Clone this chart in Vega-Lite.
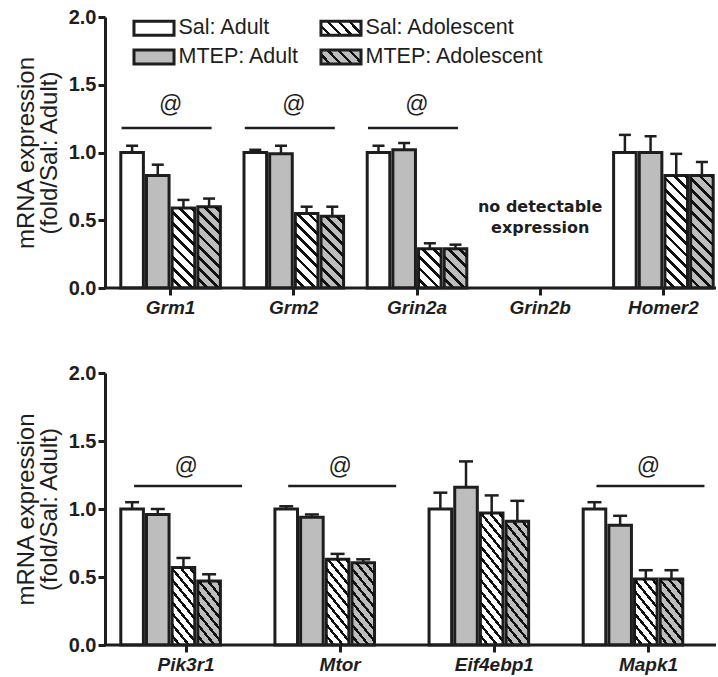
{
  "$schema": "https://vega.github.io/schema/vega-lite/v6.json",
  "background": "white",
  "padding": {"left": 14, "top": 7, "right": 0, "bottom": 2},
  "params": [
    {"name": "hatch", "value": [
      {"offset": 0, "color": "rgba(0,0,0,0)"}, {"offset": 0.037, "color": "rgba(0,0,0,0)"}, {"offset": 0.037, "color": "#111"}, {"offset": 0.056, "color": "#111"},
      {"offset": 0.056, "color": "rgba(0,0,0,0)"}, {"offset": 0.093, "color": "rgba(0,0,0,0)"}, {"offset": 0.093, "color": "#111"}, {"offset": 0.112, "color": "#111"},
      {"offset": 0.112, "color": "rgba(0,0,0,0)"}, {"offset": 0.149, "color": "rgba(0,0,0,0)"}, {"offset": 0.149, "color": "#111"}, {"offset": 0.168, "color": "#111"},
      {"offset": 0.168, "color": "rgba(0,0,0,0)"}, {"offset": 0.205, "color": "rgba(0,0,0,0)"}, {"offset": 0.205, "color": "#111"}, {"offset": 0.224, "color": "#111"},
      {"offset": 0.224, "color": "rgba(0,0,0,0)"}, {"offset": 0.261, "color": "rgba(0,0,0,0)"}, {"offset": 0.261, "color": "#111"}, {"offset": 0.28, "color": "#111"},
      {"offset": 0.28, "color": "rgba(0,0,0,0)"}, {"offset": 0.317, "color": "rgba(0,0,0,0)"}, {"offset": 0.317, "color": "#111"}, {"offset": 0.336, "color": "#111"},
      {"offset": 0.336, "color": "rgba(0,0,0,0)"}, {"offset": 0.373, "color": "rgba(0,0,0,0)"}, {"offset": 0.373, "color": "#111"}, {"offset": 0.392, "color": "#111"},
      {"offset": 0.392, "color": "rgba(0,0,0,0)"}, {"offset": 0.429, "color": "rgba(0,0,0,0)"}, {"offset": 0.429, "color": "#111"}, {"offset": 0.448, "color": "#111"},
      {"offset": 0.448, "color": "rgba(0,0,0,0)"}, {"offset": 0.485, "color": "rgba(0,0,0,0)"}, {"offset": 0.485, "color": "#111"}, {"offset": 0.504, "color": "#111"},
      {"offset": 0.504, "color": "rgba(0,0,0,0)"}, {"offset": 0.541, "color": "rgba(0,0,0,0)"}, {"offset": 0.541, "color": "#111"}, {"offset": 0.56, "color": "#111"},
      {"offset": 0.56, "color": "rgba(0,0,0,0)"}, {"offset": 0.597, "color": "rgba(0,0,0,0)"}, {"offset": 0.597, "color": "#111"}, {"offset": 0.616, "color": "#111"},
      {"offset": 0.616, "color": "rgba(0,0,0,0)"}, {"offset": 0.653, "color": "rgba(0,0,0,0)"}, {"offset": 0.653, "color": "#111"}, {"offset": 0.672, "color": "#111"},
      {"offset": 0.672, "color": "rgba(0,0,0,0)"}, {"offset": 0.709, "color": "rgba(0,0,0,0)"}, {"offset": 0.709, "color": "#111"}, {"offset": 0.728, "color": "#111"},
      {"offset": 0.728, "color": "rgba(0,0,0,0)"}, {"offset": 0.765, "color": "rgba(0,0,0,0)"}, {"offset": 0.765, "color": "#111"}, {"offset": 0.784, "color": "#111"},
      {"offset": 0.784, "color": "rgba(0,0,0,0)"}, {"offset": 0.821, "color": "rgba(0,0,0,0)"}, {"offset": 0.821, "color": "#111"}, {"offset": 0.84, "color": "#111"},
      {"offset": 0.84, "color": "rgba(0,0,0,0)"}, {"offset": 0.877, "color": "rgba(0,0,0,0)"}, {"offset": 0.877, "color": "#111"}, {"offset": 0.896, "color": "#111"},
      {"offset": 0.896, "color": "rgba(0,0,0,0)"}, {"offset": 0.933, "color": "rgba(0,0,0,0)"}, {"offset": 0.933, "color": "#111"}, {"offset": 0.952, "color": "#111"},
      {"offset": 0.952, "color": "rgba(0,0,0,0)"}, {"offset": 0.989, "color": "rgba(0,0,0,0)"}, {"offset": 0.989, "color": "#111"}, {"offset": 1, "color": "#111"}
    ]},
    {"name": "legW", "value": [
      {"offset": 0, "color": "#ffffff"}, {"offset": 0.14, "color": "#ffffff"}, {"offset": 0.14, "color": "#111"}, {"offset": 0.202, "color": "#111"},
      {"offset": 0.202, "color": "#ffffff"}, {"offset": 0.342, "color": "#ffffff"}, {"offset": 0.342, "color": "#111"}, {"offset": 0.404, "color": "#111"},
      {"offset": 0.404, "color": "#ffffff"}, {"offset": 0.544, "color": "#ffffff"}, {"offset": 0.544, "color": "#111"}, {"offset": 0.606, "color": "#111"},
      {"offset": 0.606, "color": "#ffffff"}, {"offset": 0.746, "color": "#ffffff"}, {"offset": 0.746, "color": "#111"}, {"offset": 0.808, "color": "#111"},
      {"offset": 0.808, "color": "#ffffff"}, {"offset": 0.948, "color": "#ffffff"}, {"offset": 0.948, "color": "#111"}, {"offset": 1, "color": "#111"}
    ]},
    {"name": "legG", "value": [
      {"offset": 0, "color": "#bdbdbd"}, {"offset": 0.14, "color": "#bdbdbd"}, {"offset": 0.14, "color": "#111"}, {"offset": 0.202, "color": "#111"},
      {"offset": 0.202, "color": "#bdbdbd"}, {"offset": 0.342, "color": "#bdbdbd"}, {"offset": 0.342, "color": "#111"}, {"offset": 0.404, "color": "#111"},
      {"offset": 0.404, "color": "#bdbdbd"}, {"offset": 0.544, "color": "#bdbdbd"}, {"offset": 0.544, "color": "#111"}, {"offset": 0.606, "color": "#111"},
      {"offset": 0.606, "color": "#bdbdbd"}, {"offset": 0.746, "color": "#bdbdbd"}, {"offset": 0.746, "color": "#111"}, {"offset": 0.808, "color": "#111"},
      {"offset": 0.808, "color": "#bdbdbd"}, {"offset": 0.948, "color": "#bdbdbd"}, {"offset": 0.948, "color": "#111"}, {"offset": 1, "color": "#111"}
    ]}
  ],
  "datasets": {
    "top": [
      {"gene": "Grm1", "group": "Sal: Adult", "drug": "Sal", "age": "Adult", "mean": 1.00, "upper": 1.05},
      {"gene": "Grm1", "group": "MTEP: Adult", "drug": "MTEP", "age": "Adult", "mean": 0.83, "upper": 0.91},
      {"gene": "Grm1", "group": "Sal: Adolescent", "drug": "Sal", "age": "Adolescent", "mean": 0.59, "upper": 0.65},
      {"gene": "Grm1", "group": "MTEP: Adolescent", "drug": "MTEP", "age": "Adolescent", "mean": 0.60, "upper": 0.66},
      {"gene": "Grm2", "group": "Sal: Adult", "drug": "Sal", "age": "Adult", "mean": 1.00, "upper": 1.02},
      {"gene": "Grm2", "group": "MTEP: Adult", "drug": "MTEP", "age": "Adult", "mean": 0.99, "upper": 1.05},
      {"gene": "Grm2", "group": "Sal: Adolescent", "drug": "Sal", "age": "Adolescent", "mean": 0.55, "upper": 0.60},
      {"gene": "Grm2", "group": "MTEP: Adolescent", "drug": "MTEP", "age": "Adolescent", "mean": 0.53, "upper": 0.60},
      {"gene": "Grin2a", "group": "Sal: Adult", "drug": "Sal", "age": "Adult", "mean": 1.00, "upper": 1.05},
      {"gene": "Grin2a", "group": "MTEP: Adult", "drug": "MTEP", "age": "Adult", "mean": 1.02, "upper": 1.07},
      {"gene": "Grin2a", "group": "Sal: Adolescent", "drug": "Sal", "age": "Adolescent", "mean": 0.29, "upper": 0.33},
      {"gene": "Grin2a", "group": "MTEP: Adolescent", "drug": "MTEP", "age": "Adolescent", "mean": 0.29, "upper": 0.32},
      {"gene": "Homer2", "group": "Sal: Adult", "drug": "Sal", "age": "Adult", "mean": 1.00, "upper": 1.13},
      {"gene": "Homer2", "group": "MTEP: Adult", "drug": "MTEP", "age": "Adult", "mean": 1.00, "upper": 1.12},
      {"gene": "Homer2", "group": "Sal: Adolescent", "drug": "Sal", "age": "Adolescent", "mean": 0.83, "upper": 0.99},
      {"gene": "Homer2", "group": "MTEP: Adolescent", "drug": "MTEP", "age": "Adolescent", "mean": 0.83, "upper": 0.93}
    ],
    "bottom": [
      {"gene": "Pik3r1", "group": "Sal: Adult", "drug": "Sal", "age": "Adult", "mean": 1.00, "upper": 1.05},
      {"gene": "Pik3r1", "group": "MTEP: Adult", "drug": "MTEP", "age": "Adult", "mean": 0.96, "upper": 1.00},
      {"gene": "Pik3r1", "group": "Sal: Adolescent", "drug": "Sal", "age": "Adolescent", "mean": 0.57, "upper": 0.64},
      {"gene": "Pik3r1", "group": "MTEP: Adolescent", "drug": "MTEP", "age": "Adolescent", "mean": 0.47, "upper": 0.52},
      {"gene": "Mtor", "group": "Sal: Adult", "drug": "Sal", "age": "Adult", "mean": 1.00, "upper": 1.02},
      {"gene": "Mtor", "group": "MTEP: Adult", "drug": "MTEP", "age": "Adult", "mean": 0.94, "upper": 0.96},
      {"gene": "Mtor", "group": "Sal: Adolescent", "drug": "Sal", "age": "Adolescent", "mean": 0.63, "upper": 0.67},
      {"gene": "Mtor", "group": "MTEP: Adolescent", "drug": "MTEP", "age": "Adolescent", "mean": 0.605, "upper": 0.63},
      {"gene": "Eif4ebp1", "group": "Sal: Adult", "drug": "Sal", "age": "Adult", "mean": 1.00, "upper": 1.12},
      {"gene": "Eif4ebp1", "group": "MTEP: Adult", "drug": "MTEP", "age": "Adult", "mean": 1.16, "upper": 1.35},
      {"gene": "Eif4ebp1", "group": "Sal: Adolescent", "drug": "Sal", "age": "Adolescent", "mean": 0.97, "upper": 1.10},
      {"gene": "Eif4ebp1", "group": "MTEP: Adolescent", "drug": "MTEP", "age": "Adolescent", "mean": 0.91, "upper": 1.06},
      {"gene": "Mapk1", "group": "Sal: Adult", "drug": "Sal", "age": "Adult", "mean": 1.00, "upper": 1.05},
      {"gene": "Mapk1", "group": "MTEP: Adult", "drug": "MTEP", "age": "Adult", "mean": 0.88, "upper": 0.95},
      {"gene": "Mapk1", "group": "Sal: Adolescent", "drug": "Sal", "age": "Adolescent", "mean": 0.485, "upper": 0.55},
      {"gene": "Mapk1", "group": "MTEP: Adolescent", "drug": "MTEP", "age": "Adolescent", "mean": 0.485, "upper": 0.55}
    ],
    "sigTop": [{"gene": "Grm1"}, {"gene": "Grm2"}, {"gene": "Grin2a"}],
    "sigBottom": [{"gene": "Pik3r1"}, {"gene": "Mtor"}, {"gene": "Mapk1"}],
    "noteTop": [{"gene": "Grin2b", "note": ["no detectable", "expression"]}]
  },
  "spacing": 46,
  "resolve": {"scale": {"fill": "independent", "stroke": "independent"}, "legend": {"fill": "independent", "stroke": "independent"}},
  "vconcat": [
    {
      "width": 611,
      "height": 271,
      "layer": [
        {
          "data": {"name": "top"},
          "mark": {"type": "bar", "strokeWidth": 3},
          "encoding": {
            "x": {"field": "gene", "type": "nominal", "scale": {"domain": ["Grm1", "Grm2", "Grin2a", "Grin2b", "Homer2"], "range": [4, 620], "paddingInner": 0, "paddingOuter": 0},
                  "axis": {"title": null, "domain": false, "labelFontSize": 19, "labelFontWeight": "bold", "labelFontStyle": "italic", "labelPadding": 3, "labelAngle": 0}},
            "y": {"field": "mean", "type": "quantitative", "scale": {"domain": [0, 2]},
                  "axis": {"values": [0, 0.5, 1, 1.5, 2], "format": ".1f", "labelFontSize": 20, "labelFontWeight": "bold", "labelPadding": 2, "title": ["mRNA expression", "(fold/Sal: Adult)"], "titleFontSize": 24, "titleFontWeight": "normal", "titlePadding": 7, "titleLineHeight": 23}},
            "xOffset": {"field": "group", "type": "nominal", "scale": {"domain": ["Sal: Adult", "MTEP: Adult", "Sal: Adolescent", "MTEP: Adolescent"], "paddingInner": 0.12, "paddingOuter": 0.46}},
            "fill": {"field": "drug", "type": "nominal",
                     "scale": {"domain": ["Sal", "MTEP"], "range": ["#ffffff", "#bdbdbd"]},
                     "legend": null},
            "stroke": {"field": "group", "type": "nominal",
                       "scale": {"domain": ["Sal: Adult", "MTEP: Adult", "Sal: Adolescent", "MTEP: Adolescent"], "range": ["#1e1e1e", "#1e1e1e", "#1e1e1e", "#1e1e1e"]},
                       "legend": {"orient": "none", "legendX": 33.5, "legendY": -4.5, "columns": 2, "title": null, "padding": 0,
                                  "symbolType": "M-1.43,-0.5H1.43V0.5H-1.43Z", "symbolSize": 784, "symbolStrokeWidth": 3, "symbolOpacity": 1,
                                  "symbolFillColor": {"expr": "indexof(datum.value,'Adolescent')>=0 ? {gradient:'linear',x1:0,y1:1,x2:1.2,y2:0.6,stops:(indexof(datum.value,'Sal')==0?legW:legG)} : (indexof(datum.value,'Sal')==0?'#ffffff':'#bdbdbd')"},
                                  "labelFontSize": 21.5, "labelFont": "Liberation Sans", "labelColor": "#1e1e1e", "labelOffset": 9, "labelLimit": 400, "rowPadding": 0, "columnPadding": 15}}
          }
        },
        {
          "data": {"name": "top"},
          "transform": [{"filter": "datum.age == 'Adolescent'"}],
          "mark": {"type": "bar", "strokeWidth": 0, "fill": {"expr": "{gradient:'linear',x1:0,y1:1,x2:4517/(510.1+pow(datum.mean*135.5,2)),y2:1-27100*datum.mean/(510.1+pow(datum.mean*135.5,2)),stops:hatch}"}},
          "encoding": {
            "x": {"field": "gene", "type": "nominal"},
            "y": {"field": "mean", "type": "quantitative"},
            "xOffset": {"field": "group", "type": "nominal"}
          }
        },
        {
          "data": {"name": "top"},
          "mark": {"type": "rule", "color": "#1e1e1e", "strokeWidth": 2.5, "opacity": 1},
          "encoding": {
            "x": {"field": "gene", "type": "nominal"},
            "xOffset": {"field": "group", "type": "nominal"},
            "y": {"field": "mean", "type": "quantitative"},
            "y2": {"field": "upper"}
          }
        },
        {
          "data": {"name": "top"},
          "mark": {"type": "tick", "color": "#1e1e1e", "thickness": 2.5, "size": 12, "opacity": 1},
          "encoding": {
            "x": {"field": "gene", "type": "nominal"},
            "xOffset": {"field": "group", "type": "nominal"},
            "y": {"field": "upper", "type": "quantitative"}
          }
        },
        {
          "data": {"name": "sigTop"},
          "mark": {"type": "tick", "color": "#1e1e1e", "thickness": 2.5, "size": 90, "xOffset": -4, "opacity": 1},
          "encoding": {
            "x": {"field": "gene", "type": "nominal"},
            "y": {"datum": 1.18, "type": "quantitative"}
          }
        },
        {
          "data": {"name": "sigTop"},
          "mark": {"type": "text", "text": "@", "fontSize": 23, "color": "#1e1e1e", "font": "Liberation Sans"},
          "encoding": {
            "x": {"field": "gene", "type": "nominal"},
            "y": {"datum": 1.35, "type": "quantitative"}
          }
        },
        {
          "data": {"name": "noteTop"},
          "mark": {"type": "text", "fontSize": 16, "fontWeight": "bold", "font": "DejaVu Sans", "color": "#1e1e1e", "lineHeight": 21, "baseline": "middle"},
          "encoding": {
            "x": {"field": "gene", "type": "nominal"},
            "y": {"datum": 0.6, "type": "quantitative"},
            "text": {"field": "note"}
          }
        },
        {
          "data": {"values": [{}]},
          "mark": {"type": "rule", "color": "#1e1e1e", "strokeWidth": 3},
          "encoding": {"y": {"datum": 0, "type": "quantitative"}}
        }
      ]
    },
    {
      "width": 611,
      "height": 272,
      "layer": [
        {
          "data": {"name": "bottom"},
          "mark": {"type": "bar", "stroke": "#1e1e1e", "strokeWidth": 3},
          "encoding": {
            "x": {"field": "gene", "type": "nominal", "scale": {"domain": ["Pik3r1", "Mtor", "Eif4ebp1", "Mapk1"], "range": [4, 620.5], "paddingInner": 0, "paddingOuter": 0},
                  "axis": {"title": null, "domain": false, "labelFontSize": 19, "labelFontWeight": "bold", "labelFontStyle": "italic", "labelPadding": 3, "labelAngle": 0}},
            "y": {"field": "mean", "type": "quantitative", "scale": {"domain": [0, 2]},
                  "axis": {"values": [0, 0.5, 1, 1.5, 2], "format": ".1f", "labelFontSize": 20, "labelFontWeight": "bold", "labelPadding": 2, "title": ["mRNA expression", "(fold/Sal: Adult)"], "titleFontSize": 24, "titleFontWeight": "normal", "titlePadding": 7, "titleLineHeight": 23}},
            "xOffset": {"field": "group", "type": "nominal", "scale": {"domain": ["Sal: Adult", "MTEP: Adult", "Sal: Adolescent", "MTEP: Adolescent"], "paddingInner": 0.12, "paddingOuter": 0.5}},
            "fill": {"field": "drug", "type": "nominal",
                     "scale": {"domain": ["Sal", "MTEP"], "range": ["#ffffff", "#bdbdbd"]},
                     "legend": null}
          }
        },
        {
          "data": {"name": "bottom"},
          "transform": [{"filter": "datum.age == 'Adolescent'"}],
          "mark": {"type": "bar", "strokeWidth": 0, "fill": {"expr": "{gradient:'linear',x1:0,y1:1,x2:5558/(772.3+pow(datum.mean*136,2)),y2:1-27200*datum.mean/(772.3+pow(datum.mean*136,2)),stops:hatch}"}},
          "encoding": {
            "x": {"field": "gene", "type": "nominal"},
            "y": {"field": "mean", "type": "quantitative"},
            "xOffset": {"field": "group", "type": "nominal"}
          }
        },
        {
          "data": {"name": "bottom"},
          "mark": {"type": "rule", "color": "#1e1e1e", "strokeWidth": 2.5, "opacity": 1},
          "encoding": {
            "x": {"field": "gene", "type": "nominal"},
            "xOffset": {"field": "group", "type": "nominal"},
            "y": {"field": "mean", "type": "quantitative"},
            "y2": {"field": "upper"}
          }
        },
        {
          "data": {"name": "bottom"},
          "mark": {"type": "tick", "color": "#1e1e1e", "thickness": 2.5, "size": 14, "opacity": 1},
          "encoding": {
            "x": {"field": "gene", "type": "nominal"},
            "xOffset": {"field": "group", "type": "nominal"},
            "y": {"field": "upper", "type": "quantitative"}
          }
        },
        {
          "data": {"name": "sigBottom"},
          "mark": {"type": "tick", "color": "#1e1e1e", "thickness": 2.5, "size": 108, "xOffset": 2, "opacity": 1},
          "encoding": {
            "x": {"field": "gene", "type": "nominal"},
            "y": {"datum": 1.17, "type": "quantitative"}
          }
        },
        {
          "data": {"name": "sigBottom"},
          "mark": {"type": "text", "text": "@", "fontSize": 23, "color": "#1e1e1e", "font": "Liberation Sans"},
          "encoding": {
            "x": {"field": "gene", "type": "nominal"},
            "y": {"datum": 1.31, "type": "quantitative"}
          }
        },
        {
          "data": {"values": [{}]},
          "mark": {"type": "rule", "color": "#1e1e1e", "strokeWidth": 3},
          "encoding": {"y": {"datum": 0, "type": "quantitative"}}
        }
      ]
    }
  ],
  "config": {
    "view": {"stroke": null},
    "font": "Liberation Sans",
    "axis": {"domainColor": "#1e1e1e", "domainWidth": 3, "tickColor": "#1e1e1e", "tickWidth": 3, "tickSize": 7, "labelColor": "#1e1e1e", "titleColor": "#1e1e1e", "grid": false, "labelFont": "Liberation Sans", "titleFont": "Liberation Sans"}
  }
}
